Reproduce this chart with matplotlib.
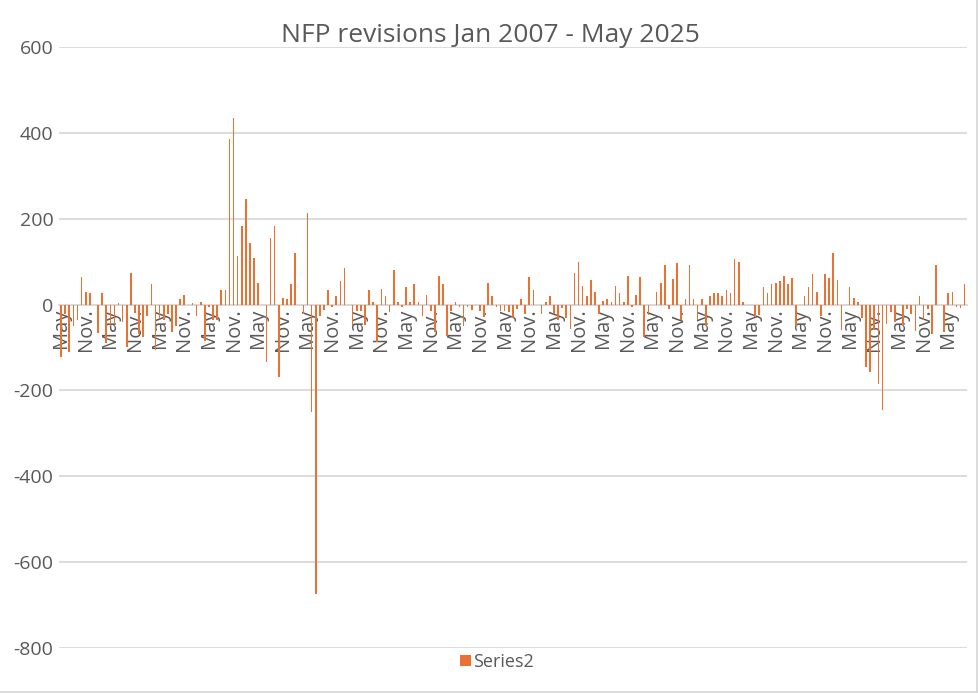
import matplotlib
matplotlib.use("Agg")
import matplotlib.pyplot as plt
from matplotlib.patches import Patch
from matplotlib.lines import Line2D

plt.rcParams['font.family'] = ['Open Sans', 'DejaVu Sans']
plt.rcParams['axes.unicode_minus'] = False

title = "NFP revisions Jan 2007 - May 2025"
series_name = "Series2"
tick_names = ["May", "Nov."]

revisions = [
    -123, -22, -111, -51, -35, 65, 30, 28, -2, -67,
    28, -90, -49, -45, 4, -41, -99, 73, -20, -68,
    -76, -26, 47, -105, -33, -37, -22, -64, -49, 13,
    23, 0, 3, -26, 7, -85, -6, -37, -37, 33,
    35, 386, 435, 114, 182, 247, 144, 109, 51, 0,
    -134, 154, 182, -169, 16, 14, 47, 119, 0, -22,
    214, -250, -675, -26, -12, 35, -6, 21, 54, 86,
    0, -47, -15, -14, -47, 33, 5, -88, 37, 21,
    -18, 81, 5, -6, 42, 7, 49, 7, -27, 23,
    -16, -64, 67, 49, -74, -16, 5, -6, -49, -5,
    -12, -2, -16, -29, 50, 21, -6, -16, -16, -18,
    -32, -10, 14, -22, 65, 33, 0, -22, 5, 19,
    -22, -36, -8, -32, -58, 74, 100, 44, 21, 58,
    30, -22, 9, 14, 7, 44, 28, 7, 67, -6,
    23, 65, -76, -24, 0, 30, 51, 93, -10, 60,
    98, -37, 14, 93, 14, -36, 14, -49, 21, 28,
    28, 21, 35, 28, 105, 100, 7, 0, 0, -29,
    -25, 40, 28, 47, 51, 56, 67, 49, 63, -51,
    0, 21, 42, 72, 30, -26, 72, 61, 121, 58,
    -59, 0, 40, 16, 7, -32, -145, -158, -60, -185,
    -245, -45, -18, -41, 0, -48, -11, -22, -62, 21,
    -37, -10, -68, 92, 0, -64, 27, 30, -6, -8,
    48,
]

orange = "#E97132"
grey_text = "#595959"
grid_col = "#D9D9D9"

W, H = 979, 695
fig = plt.figure(figsize=(W / 100, H / 100), dpi=100)
left, right, top, bottom = 59, 966.7, 47, 648
ax = fig.add_axes([left / W, 1 - bottom / H, (right - left) / W, (bottom - top) / H])

for s in ['top', 'right', 'left']:
    ax.spines[s].set_visible(False)
ax.spines['bottom'].set_position(('data', 0))
ax.spines['bottom'].set_color(grid_col)
ax.spines['bottom'].set_linewidth(1.3)
ax.spines['bottom'].set_zorder(2)

n = len(revisions)
xs = list(range(n))
ax.bar(xs, revisions, width=0.4, color=orange, linewidth=0, zorder=3)

ax.set_xlim(-0.5, n - 0.5)
ax.set_ylim(-800, 600)
ax.set_yticks(range(-800, 601, 200))
ax.yaxis.grid(True, color=grid_col, linewidth=1.3, zorder=0)
ax.set_axisbelow(True)
ax.tick_params(axis='y', length=0, labelsize=14, labelcolor=grey_text, pad=4)

tick_pos = list(range(0, n, 6))
ax.set_xticks(tick_pos)
ax.set_xticklabels([tick_names[i % 2] for i in range(len(tick_pos))])
ax.tick_params(axis='x', length=0, labelsize=14.5, labelcolor=grey_text, pad=3)
for lab in ax.get_xticklabels():
    lab.set_rotation(90)
    lab.set_ha('center')
    lab.set_va('top')

fig.text(490 / W, 1 - 36 / H, title, ha='center', va='center',
         fontsize=19, color=grey_text)

handle = Patch(facecolor=orange, edgecolor='none')
fig.legend([handle], [series_name], loc='center', bbox_to_anchor=(497 / W, 1 - 662 / H),
           frameon=False, fontsize=13, labelcolor=grey_text,
           handlelength=0.6, handleheight=0.6, handletextpad=0.15)

# chart area border (right and bottom edges visible)
fig.add_artist(Line2D([977 / W, 977 / W], [1 - 692 / H, 1], transform=fig.transFigure,
                      color=grid_col, linewidth=1.3))
fig.add_artist(Line2D([0, 977 / W], [1 - 692 / H, 1 - 692 / H], transform=fig.transFigure,
                      color=grid_col, linewidth=1.3))

fig.savefig("out.png", dpi=100)
